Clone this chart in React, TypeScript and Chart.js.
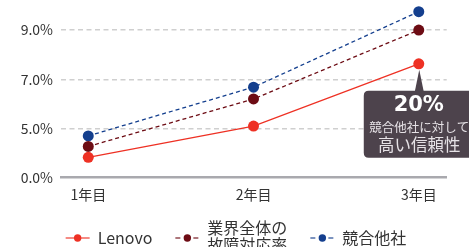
import React, { useEffect, useRef } from "react";
import { Chart, registerables } from "chart.js";

Chart.register(...registerables);

const categories = ["1年目", "2年目", "3年目"];
const lenovoValues = [3.83, 5.1, 7.63];
const industryValues = [4.27, 6.2, 9.0];
const competitorValues = [4.7, 6.68, 9.75];
// y axis is broken: the lowest tick (drawn at 3) is labelled 0.0%
const yTickValues = [3, 5, 7, 9];
const yTickLabels = ["0.0%", "5.0%", "7.0%", "9.0%"];
const seriesNames: (string | string[])[] = ["Lenovo", ["業界全体の", "故障対応率"], "競合他社"];
const seriesColors = ["#ee3124", "#6d0c14", "#143f8e"];
const seriesDashed = [false, true, true];
const calloutBig = "20%";
const calloutLine1 = "競合他社に対して";
const calloutLine2 = "高い信頼性";

const FONT = "'Noto Sans CJK JP', 'Noto Sans', sans-serif";

const calloutPlugin = {
  id: "callout",
  afterDatasetsDraw(chart: any) {
    const meta = chart.getDatasetMeta(0);
    const pt = meta.data[2];
    if (!pt) return;
    const px = pt.x;
    const py = pt.y;
    const ctx = chart.ctx;
    ctx.save();
    const fill = "#4d434c";
    ctx.fillStyle = fill;
    // pointer
    ctx.beginPath();
    ctx.moveTo(px + 0.5, py + 6);
    ctx.lineTo(px - 4, py + 28);
    ctx.lineTo(px + 5, py + 28);
    ctx.closePath();
    ctx.fill();
    // box
    const left = px - 55;
    const right = px + 60;
    const top = py + 27;
    const bottom = py + 94;
    const r = 5;
    ctx.beginPath();
    ctx.moveTo(left + r, top);
    ctx.lineTo(right - r, top);
    ctx.quadraticCurveTo(right, top, right, top + r);
    ctx.lineTo(right, bottom - r);
    ctx.quadraticCurveTo(right, bottom, right - r, bottom);
    ctx.lineTo(left + r, bottom);
    ctx.quadraticCurveTo(left, bottom, left, bottom - r);
    ctx.lineTo(left, top + r);
    ctx.quadraticCurveTo(left, top, left + r, top);
    ctx.closePath();
    ctx.fill();
    ctx.fillStyle = "#ffffff";
    ctx.textAlign = "center";
    ctx.textBaseline = "middle";
    ctx.font = `bold 21px 'DejaVu Sans', ${FONT}`;
    ctx.fillText(calloutBig, px, py + 42);
    ctx.fillStyle = "#e6e2e6";
    ctx.font = `12.5px ${FONT}`;
    ctx.fillText(calloutLine1, px + 0.5, py + 63);
    ctx.font = `16.5px ${FONT}`;
    ctx.fillText(calloutLine2, px + 0.5, py + 81);
    ctx.restore();
  },
};

const legendPlugin = {
  id: "customLegend",
  afterDraw(chart: any) {
    const ctx = chart.ctx;
    ctx.save();
    ctx.font = `16px ${FONT}`;
    const symW = 24;
    const textGap = 8;
    const itemGap = 23;
    const widths = seriesNames.map((n) => {
      const lines = Array.isArray(n) ? n : [n];
      return Math.max(...lines.map((l) => ctx.measureText(l).width));
    });
    const total =
      widths.reduce((a, w) => a + symW + textGap + w, 0) + itemGap * (widths.length - 1);
    let x = chart.width / 2 + 1.5 - total / 2;
    const cy = 238;
    const lineH = 17;
    seriesNames.forEach((n, i) => {
      const color = seriesColors[i];
      ctx.save();
      ctx.globalAlpha = 0.75;
      ctx.strokeStyle = color;
      ctx.lineWidth = 1.5;
      ctx.setLineDash(seriesDashed[i] ? [5, 4] : []);
      ctx.beginPath();
      ctx.moveTo(x, cy);
      ctx.lineTo(x + symW, cy);
      ctx.stroke();
      ctx.restore();
      ctx.fillStyle = color;
      ctx.beginPath();
      ctx.arc(x + symW / 2, cy, 3.7, 0, Math.PI * 2);
      ctx.fill();
      const tx = x + symW + textGap;
      ctx.fillStyle = "#333333";
      ctx.textAlign = "left";
      ctx.textBaseline = "middle";
      const lines = Array.isArray(n) ? n : [n];
      const startY = cy - ((lines.length - 1) * lineH) / 2 - (lines.length > 1 ? 1.5 : 0);
      lines.forEach((l, k) => ctx.fillText(l, tx, startY + k * lineH));
      x = tx + widths[i] + itemGap;
    });
    ctx.restore();
  },
};

export default function App() {
  const ref = useRef<HTMLCanvasElement>(null);
  useEffect(() => {
    if (!ref.current) return;
    const values = [lenovoValues, industryValues, competitorValues];
    const chart = new Chart(ref.current, {
      type: "line",
      data: {
        datasets: values.map((vals, i) => ({
          label: Array.isArray(seriesNames[i]) ? (seriesNames[i] as string[]).join("") : (seriesNames[i] as string),
          data: vals.map((v, k) => ({ x: k, y: v })),
          borderColor: seriesColors[i],
          backgroundColor: seriesColors[i],
          borderWidth: 1.3,
          borderDash: seriesDashed[i] ? [4, 3] : [],
          pointRadius: 5.5,
          pointBorderWidth: 0,
          pointBackgroundColor: seriesColors[i],
          tension: 0,
          fill: false,
        })),
      },
      options: {
        responsive: false,
        animation: false,
        layout: { padding: { top: 0, right: 22.3, bottom: 44.3, left: 0 } },
        plugins: {
          legend: { display: false },
          tooltip: { enabled: false },
        },
        scales: {
          x: {
            type: "linear",
            min: -0.165,
            max: 2.169,
            afterBuildTicks: (scale: any) => {
              scale.ticks = categories.map((_, i) => ({ value: i }));
            },
            afterFit: (scale: any) => {
              scale.height = 25;
              scale.paddingLeft = 0;
              scale.paddingRight = 0;
            },
            ticks: {
              padding: 9,
              color: "#333333",
              font: { family: FONT, size: 14 },
              maxRotation: 0,
              callback: (v: any) => categories[Math.round(v)] ?? "",
            },
            grid: { display: false, drawTicks: false },
            border: { display: true, color: "#a9a9ae", width: 2.5 },
          },
          y: {
            type: "linear",
            min: 3,
            max: 10,
            afterBuildTicks: (scale: any) => {
              scale.ticks = yTickValues.map((v) => ({ value: v }));
            },
            afterFit: (scale: any) => {
              scale.width = 61;
              scale.paddingTop = 0;
              scale.paddingBottom = 0;
            },
            ticks: {
              padding: 8,
              color: "#333333",
              font: { family: FONT, size: 14 },
              callback: (v: any) => yTickLabels[yTickValues.indexOf(v)] ?? "",
            },
            grid: {
              drawTicks: false,
              color: (c: any) => (c.tick && c.tick.value === 3 ? "rgba(0,0,0,0)" : "#cfcfcf"),
              lineWidth: 1.5,
            },
            border: { display: false, dash: [5, 3.5] },
          },
        },
      },
      plugins: [calloutPlugin, legendPlugin],
    } as any);
    return () => chart.destroy();
  }, []);
  return (
    <div style={{ position: "absolute", left: 0, top: 0, width: 469, height: 247, overflow: "hidden", background: "#fff" }}>
      <canvas ref={ref} width={469} height={247} style={{ display: "block" }} />
    </div>
  );
}
